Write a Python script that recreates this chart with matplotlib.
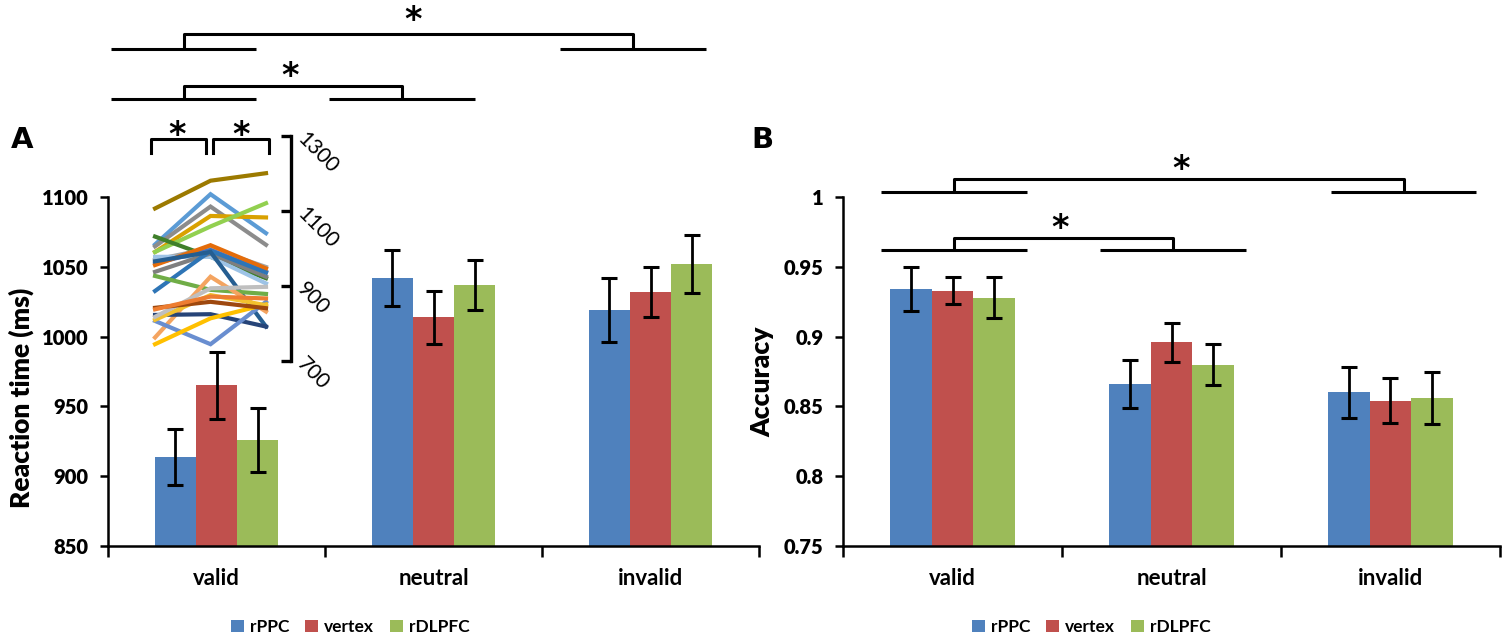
import matplotlib
matplotlib.use("Agg")
import matplotlib.pyplot as plt
from matplotlib.patches import Patch

plt.rcParams['font.family'] = ['Lato', 'DejaVu Sans']

# data
conditions = ["valid", "neutral", "invalid"]
sites = ["rPPC", "vertex", "rDLPFC"]
site_colors = ["#4F81BD", "#C0504D", "#9BBB59"]

rt_mean = {
    "rPPC": [914, 1042, 1019],
    "vertex": [965, 1014, 1032],
    "rDLPFC": [926, 1037, 1052],
}
rt_se = {
    "rPPC": [20, 20, 23],
    "vertex": [24, 19, 18],
    "rDLPFC": [23, 18, 21],
}
acc_mean = {
    "rPPC": [0.934, 0.866, 0.860],
    "vertex": [0.933, 0.896, 0.854],
    "rDLPFC": [0.928, 0.880, 0.856],
}
acc_se = {
    "rPPC": [0.016, 0.017, 0.018],
    "vertex": [0.010, 0.014, 0.016],
    "rDLPFC": [0.015, 0.015, 0.0185],
}

# individual subjects, valid trials (rPPC, vertex, rDLPFC)
subj_colors = ["#9C7A00", "#5B9BD5", "#8C8C8C", "#D9A100", "#92D050",
               "#3F7F2A", "#A5A5A5", "#9DC3E6", "#4472C4", "#7F7F7F",
               "#E46C0A", "#2E75B6", "#255E91", "#70AD47", "#F4A460",
               "#264478", "#698ED0", "#FFC000", "#F2C12E", "#BFBFBF",
               "#9E480E", "#ED7D31"]
subj_rt = [
    [1106, 1180, 1200],
    [1010, 1144, 1040],
    [1005, 1111, 1009],
    [990, 1086, 1082],
    [990, 1058, 1120],
    [1031, 977, 920],
    [969, 1000, 950],
    [977, 977, 906],
    [960, 995, 937],
    [937, 986, 924],
    [955, 1008, 946],
    [886, 993, 935],
    [965, 990, 791],
    [926, 889, 878],
    [762, 924, 831],
    [822, 824, 791],
    [806, 744, 857],
    [744, 813, 850],
    [809, 875, 848],
    [817, 893, 897],
    [841, 857, 840],
    [837, 871, 866],
]
subj_ticks = [700, 900, 1100, 1300]

W, H = 1508, 641
fig = plt.figure(figsize=(W / 100, H / 100), dpi=100)

axA = fig.add_axes([108 / W, 95 / H, 651 / W, 349 / H])
axB = fig.add_axes([843 / W, 95 / H, 657 / W, 349 / H])

bar_w = 0.19
offsets = [-bar_w, 0, bar_w]


def draw_bars(ax, means, ses):
    for k, s in enumerate(sites):
        xs = [i + offsets[k] for i in range(len(conditions))]
        ax.bar(xs, means[s], width=bar_w, color=site_colors[k], zorder=2)
        ax.errorbar(xs, means[s], yerr=ses[s], fmt='none', ecolor='black',
                    elinewidth=2, capsize=6, capthick=2.2, zorder=3)


def style_axes(ax):
    ax.set_xlim(-0.5, 2.5)
    for sp in ['top', 'right']:
        ax.spines[sp].set_visible(False)
    for sp in ['left', 'bottom']:
        ax.spines[sp].set_linewidth(1.8)
    ax.set_xticks([-0.5, 0.5, 1.5, 2.5])
    ax.set_xticklabels([])
    ax.tick_params(axis='x', which='major', direction='out', length=8, width=1.8)
    ax.set_xticks([0, 1, 2], minor=True)
    ax.set_xticklabels(conditions, minor=True, fontsize=16, fontweight='bold')
    ax.tick_params(axis='x', which='minor', length=0, pad=16)
    ax.tick_params(axis='y', direction='out', length=6, width=1.8,
                   labelsize=14.5, pad=8)
    for lab in ax.get_yticklabels():
        lab.set_fontweight('heavy')


draw_bars(axA, rt_mean, rt_se)
axA.set_ylim(850, 1100)
axA.set_yticks([850, 900, 950, 1000, 1050, 1100])
style_axes(axA)
axA.set_ylabel("Reaction time (ms)", fontsize=19, fontweight='heavy')
axA.yaxis.set_label_coords(-0.113, 0.424)

draw_bars(axB, acc_mean, acc_se)
axB.set_ylim(0.75, 1.0)
axB.set_yticks([0.75, 0.8, 0.85, 0.9, 0.95, 1.0])
axB.set_yticklabels(["0.75", "0.8", "0.85", "0.9", "0.95", "1"])
style_axes(axB)
axB.set_ylabel("Accuracy", fontsize=19, fontweight='heavy')
axB.yaxis.set_label_coords(-0.104, 0.47)

fig.text(22 / W, 1 - 140 / H, "A", fontsize=21, fontweight='bold',
         ha='center', va='center', family='DejaVu Sans')
fig.text(762 / W, 1 - 140 / H, "B", fontsize=21, fontweight='bold',
         ha='center', va='center', family='DejaVu Sans')

# significance brackets
LW = 2.2


def bracket(ax, c1, c2, base, top, half):
    kw = dict(color='black', lw=LW, clip_on=False, solid_capstyle='butt')
    ax.plot([c1 - half, c1 + half], [base, base], **kw)
    ax.plot([c2 - half, c2 + half], [base, base], **kw)
    ax.plot([c1, c1, c2, c2], [base, top, top, base], **kw)


def star(ax, x, y):
    ax.text(x, y, "*", ha='center', va='center', fontsize=24,
            fontweight='bold', family='DejaVu Sans', clip_on=False)


bracket(axA, -0.152, 1.92, 1205.8, 1216.5, 0.336)
bracket(axA, -0.152, 0.855, 1170.2, 1179.5, 0.336)
star(axA, 0.906, 1226.5)
star(axA, 0.339, 1186.5)

kw = dict(color='black', lw=LW, clip_on=False)
axA.plot([-0.303, -0.303, -0.049, -0.049], [1131.3, 1141.3, 1141.3, 1131.3], **kw)
axA.plot([-0.015, -0.015, 0.242, 0.242], [1131.3, 1141.3, 1141.3, 1131.3], **kw)
star(axA, -0.183, 1144)
star(axA, 0.112, 1144)

bracket(axB, 0.007, 2.06, 1.0034, 1.0127, 0.332)
bracket(axB, 0.007, 1.007, 0.9618, 0.9704, 0.332)
star(axB, 1.043, 1.0195)
star(axB, 0.489, 0.9775)

# inset: individual subjects
axI = fig.add_axes([138.4 / W, 1 - 360.7 / H, 152.3 / W, 225 / H])
axI.patch.set_visible(False)
for row, c in zip(subj_rt, subj_colors):
    axI.plot([0, 1, 2], row, color=c, lw=3, solid_joinstyle='miter')
axI.set_xlim(-0.3, 2.445)
axI.set_ylim(700, 1300)
axI.set_xticks([])
axI.set_yticks(subj_ticks)
for sp in ['top', 'left', 'bottom']:
    axI.spines[sp].set_visible(False)
axI.spines['right'].set_linewidth(2.4)
axI.yaxis.tick_right()
axI.tick_params(axis='y', direction='in', length=7, width=2.4, labelsize=15, pad=7)
for lab in axI.get_yticklabels():
    lab.set_rotation(-45)
    lab.set_rotation_mode('anchor')
    lab.set_ha('left')
    lab.set_va('center')

# legends
handles = [Patch(facecolor=c, edgecolor='none') for c in site_colors]
for cx in [350, 1091]:
    fig.legend(handles, sites, loc='center', bbox_to_anchor=(cx / W, 1 - 627 / H),
               ncol=3, frameon=False, handlelength=0.75, handleheight=0.75,
               handletextpad=0.35, columnspacing=0.9,
               prop={'weight': 'bold', 'size': 12.5})

fig.savefig("out.png", dpi=100)
